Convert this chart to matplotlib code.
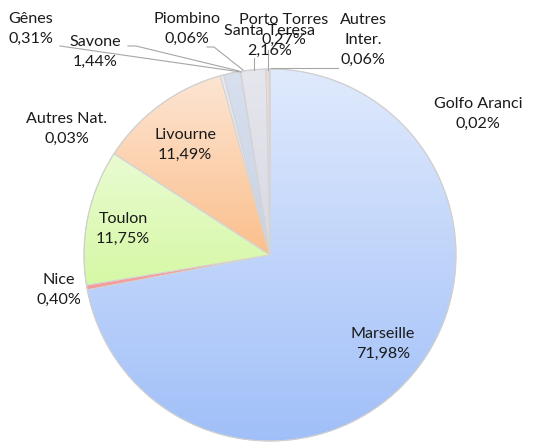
import numpy as np
import matplotlib
matplotlib.use("Agg")
import matplotlib.pyplot as plt
from matplotlib.colors import to_rgb

plt.rcParams['font.family'] = ['Lato', 'DejaVu Sans']

categories = ["Marseille", "Nice", "Toulon", "Autres Nat.", "Livourne", "Gênes",
              "Savone", "Piombino", "Santa Teresa", "Porto Torres", "Autres\nInter.", "Golfo Aranci"]
values = [71.98, 0.40, 11.75, 0.03, 11.49, 0.31, 1.44, 0.06, 2.16, 0.27, 0.06, 0.02]

grad_colors = [("#e0eafd", "#a0bff8"), ("#f5a5a5", "#f39c9c"), ("#e9fbd2", "#d6f8a5"),
               ("#e0e6f0", "#d0d8e6"), ("#fde5d3", "#fbbf8c"), ("#e8e8ee", "#dcdce6"),
               ("#d8e0ee", "#c6d2e6"), ("#f0d8d8", "#ecc8c8"), ("#e6e6ee", "#d8d8e4"),
               ("#f0dcd8", "#ead0cc"), ("#e4e8f0", "#d8dde8"), ("#e4ecf8", "#dae4f4")]

W, H = 533, 445
fig = plt.figure(figsize=(W / 100, H / 100), dpi=100)
ax = fig.add_axes([0, 0, 1, 1])

cx, cy, r = 270, H - 255, 186
wedges, _ = ax.pie(values, startangle=90, counterclock=False, center=(cx, cy), radius=r,
                   wedgeprops=dict(edgecolor='#d4d4d4', linewidth=0.6), frame=True)
ax.axis('off')

for w, (c1, c2) in zip(wedges, grad_colors):
    v = w.get_path().vertices
    x0, x1 = v[:, 0].min(), v[:, 0].max()
    y0, y1 = v[:, 1].min(), v[:, 1].max()
    t = np.linspace(0, 1, 256)[:, None, None]
    a, b = np.array(to_rgb(c1)), np.array(to_rgb(c2))
    arr = a * (1 - t) + b * t
    im = ax.imshow(arr, extent=(x0, x1, y0, y1), origin='upper', aspect='auto',
                   interpolation='bilinear', zorder=1)
    im.set_clip_path(w)
    w.set_facecolor('none')
    w.set_zorder(2)

circ = plt.Circle((cx, cy), r, fill=False, edgecolor='#cfcfcf', linewidth=0.8, zorder=3)
ax.add_patch(circ)

ax.set_xlim(0, W)
ax.set_ylim(0, H)
ax.set_aspect('equal')

fs = 11.6
def lab(x, y, name, val, color='#1a1a1a'):
    ax.text(x, H - y, name + "\n" + f"{val:.2f}".replace('.', ',') + "%", ha='center',
            va='center', fontsize=fs, color=color, linespacing=1.55, zorder=5)

pos = {
    "Marseille": (383, 344), "Nice": (59, 290), "Toulon": (123, 229),
    "Autres Nat.": (67, 129), "Livourne": (185, 145), "Gênes": (31, 29),
    "Savone": (95, 52), "Piombino": (187, 29), "Santa Teresa": (270, 41),
    "Porto Torres": (284, 30), "Autres\nInter.": (363, 40), "Golfo Aranci": (478, 114),
}
for name, val in zip(categories, values):
    x, y = pos[name]
    lab(x, y, name, val)

lc = '#a6a6a6'
def line(pts):
    xs = [p[0] for p in pts]
    ys = [H - p[1] for p in pts]
    ax.plot(xs, ys, color=lc, lw=0.8, zorder=4)

line([(60, 46), (241, 72)])
line([(128, 46), (136, 46), (239, 71)])
line([(207, 47), (214, 47), (243, 70)])
line([(254, 58), (254, 70)])
line([(268, 50), (268, 70)])
line([(338, 68), (271, 68)])

fig.savefig("out.png", dpi=100)
